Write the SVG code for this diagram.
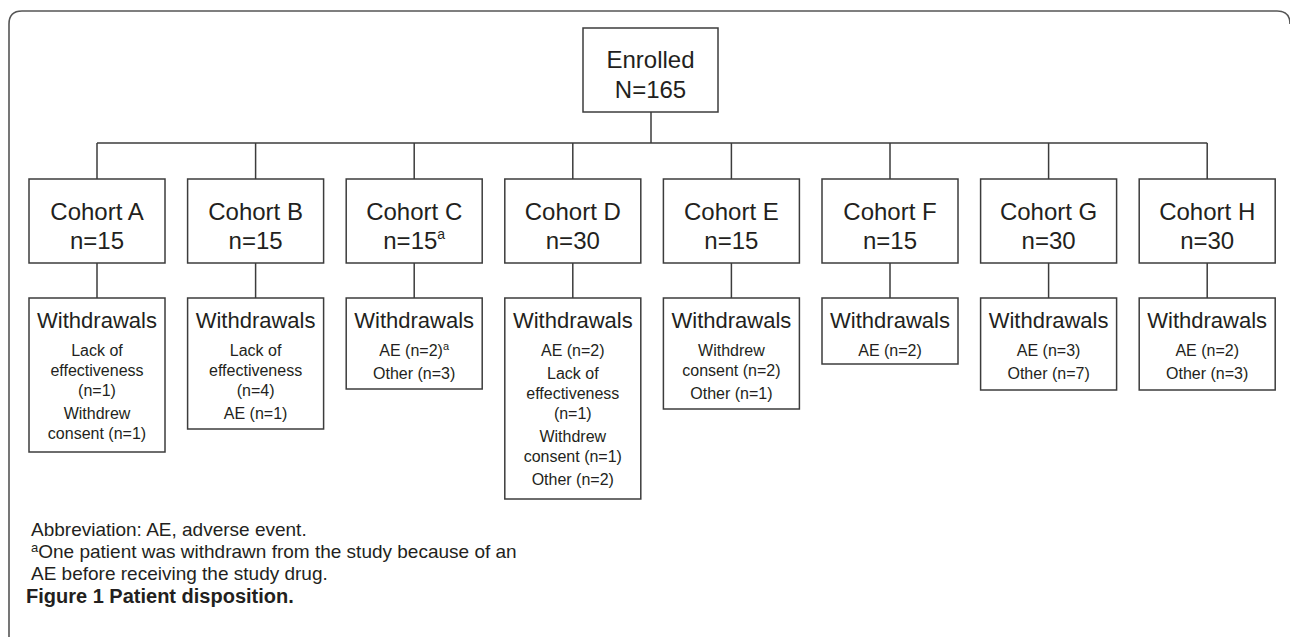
<svg xmlns="http://www.w3.org/2000/svg" width="1290" height="637" viewBox="0 0 1290 637">
<defs>
<style>
.box{fill:#fff;stroke:#3c3c3c;stroke-width:1.5}
.ln{fill:none;stroke:#3c3c3c;stroke-width:1.5}
.frame{fill:none;stroke:#555;stroke-width:1.6}
text{font-family:"Liberation Sans",Arial,sans-serif;fill:#231f20;text-anchor:middle}
.big{font-size:24px}
.wd{font-size:22px}
.sm{font-size:16px}
.fn{font-size:19px;text-anchor:start}
.cap{font-size:20px;font-weight:bold;text-anchor:start}
</style>
</defs>
<rect width="1290" height="637" fill="#fff"/>
<path class="frame" d="M9,637 V24 Q9,11 22,11 H1277 Q1290,11 1290,24"/>
<g id="connectors">
<path class="ln" d="M651,112 V143 M97,143 H1207.2 M97,143 V179 M255.6,143 V179 M414.2,143 V179 M572.8,143 V179 M731.4,143 V179 M890,143 V179 M1048.6,143 V179 M1207.2,143 V179"/>
<path class="ln" d="M97,263 V298 M255.6,263 V298 M414.2,263 V298 M572.8,263 V298 M731.4,263 V298 M890,263 V298 M1048.6,263 V298 M1207.2,263 V298"/>
</g>
<g id="enrolled">
<rect class="box" x="583" y="28" width="135" height="84"/>
<text class="big" x="650.5" y="68">Enrolled</text>
<text class="big" x="650.5" y="98">N=165</text>
</g>
<g id="cohortA"><rect class="box" x="29" y="179" width="136" height="84"/>
<text class="big" x="97" y="220">Cohort A</text><text class="big" x="97" y="249">n=15</text></g>
<g id="cohortB"><rect class="box" x="187.6" y="179" width="136" height="84"/>
<text class="big" x="255.6" y="220">Cohort B</text><text class="big" x="255.6" y="249">n=15</text></g>
<g id="cohortC"><rect class="box" x="346.2" y="179" width="136" height="84"/>
<text class="big" x="414.2" y="220">Cohort C</text><text class="big" x="414.2" y="249">n=15<tspan font-size="14" dy="-10">a</tspan></text></g>
<g id="cohortD"><rect class="box" x="504.8" y="179" width="136" height="84"/>
<text class="big" x="572.8" y="220">Cohort D</text><text class="big" x="572.8" y="249">n=30</text></g>
<g id="cohortE"><rect class="box" x="663.4" y="179" width="136" height="84"/>
<text class="big" x="731.4" y="220">Cohort E</text><text class="big" x="731.4" y="249">n=15</text></g>
<g id="cohortF"><rect class="box" x="822" y="179" width="136" height="84"/>
<text class="big" x="890" y="220">Cohort F</text><text class="big" x="890" y="249">n=15</text></g>
<g id="cohortG"><rect class="box" x="980.6" y="179" width="136" height="84"/>
<text class="big" x="1048.6" y="220">Cohort G</text><text class="big" x="1048.6" y="249">n=30</text></g>
<g id="cohortH"><rect class="box" x="1139.2" y="179" width="136" height="84"/>
<text class="big" x="1207.2" y="220">Cohort H</text><text class="big" x="1207.2" y="249">n=30</text></g>
<g id="withdrawA"><rect class="box" x="29" y="298" width="136" height="154"/>
<text class="wd" x="97" y="328">Withdrawals</text>
<text class="sm" x="97" y="356">Lack of</text><text class="sm" x="97" y="376">effectiveness</text><text class="sm" x="97" y="396">(n=1)</text>
<text class="sm" x="97" y="419">Withdrew</text><text class="sm" x="97" y="439">consent (n=1)</text></g>
<g id="withdrawB"><rect class="box" x="187.6" y="298" width="136" height="131"/>
<text class="wd" x="255.6" y="328">Withdrawals</text>
<text class="sm" x="255.6" y="356">Lack of</text><text class="sm" x="255.6" y="376">effectiveness</text><text class="sm" x="255.6" y="396">(n=4)</text>
<text class="sm" x="255.6" y="419">AE (n=1)</text></g>
<g id="withdrawC"><rect class="box" x="346.2" y="298" width="136" height="91"/>
<text class="wd" x="414.2" y="328">Withdrawals</text>
<text class="sm" x="414.2" y="356">AE (n=2)<tspan font-size="11" dy="-6">a</tspan></text>
<text class="sm" x="414.2" y="379">Other (n=3)</text></g>
<g id="withdrawD"><rect class="box" x="504.8" y="298" width="136" height="201"/>
<text class="wd" x="572.8" y="328">Withdrawals</text>
<text class="sm" x="572.8" y="356">AE (n=2)</text>
<text class="sm" x="572.8" y="379">Lack of</text><text class="sm" x="572.8" y="399">effectiveness</text><text class="sm" x="572.8" y="419">(n=1)</text>
<text class="sm" x="572.8" y="442">Withdrew</text><text class="sm" x="572.8" y="462">consent (n=1)</text>
<text class="sm" x="572.8" y="485">Other (n=2)</text></g>
<g id="withdrawE"><rect class="box" x="663.4" y="298" width="136" height="111"/>
<text class="wd" x="731.4" y="328">Withdrawals</text>
<text class="sm" x="731.4" y="356">Withdrew</text><text class="sm" x="731.4" y="376">consent (n=2)</text>
<text class="sm" x="731.4" y="399">Other (n=1)</text></g>
<g id="withdrawF"><rect class="box" x="822" y="298" width="136" height="66"/>
<text class="wd" x="890" y="328">Withdrawals</text>
<text class="sm" x="890" y="356">AE (n=2)</text></g>
<g id="withdrawG"><rect class="box" x="980.6" y="298" width="136" height="92"/>
<text class="wd" x="1048.6" y="328">Withdrawals</text>
<text class="sm" x="1048.6" y="356">AE (n=3)</text><text class="sm" x="1048.6" y="379">Other (n=7)</text></g>
<g id="withdrawH"><rect class="box" x="1139.2" y="298" width="136" height="92"/>
<text class="wd" x="1207.2" y="328">Withdrawals</text>
<text class="sm" x="1207.2" y="356">AE (n=2)</text><text class="sm" x="1207.2" y="379">Other (n=3)</text></g>
<g id="footnotes">
<text class="fn" x="31" y="536">Abbreviation: AE, adverse event.</text>
<text class="fn" x="31" y="558"><tspan font-size="13" dy="-6">a</tspan><tspan dy="6">One patient was withdrawn from the study because of an</tspan></text>
<text class="fn" x="31" y="580">AE before receiving the study drug.</text>
<text class="cap" x="26" y="603">Figure 1 Patient disposition.</text>
</g>
</svg>
